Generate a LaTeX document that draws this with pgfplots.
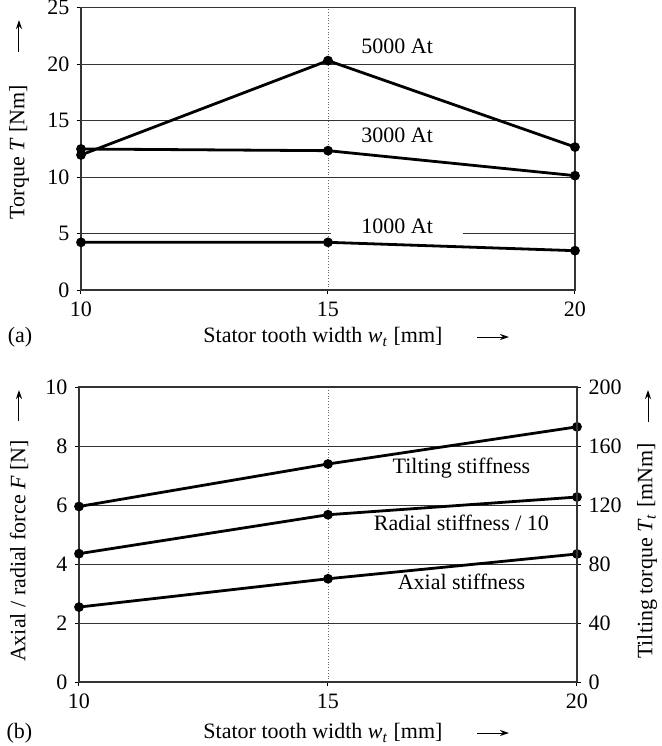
\documentclass[border=0pt]{standalone}
\usepackage{fontspec}
\setmainfont{Liberation Serif}
\usepackage{pgfplots}
\pgfplotsset{compat=1.18}
\usetikzlibrary{arrows.meta}
\begin{document}
\fontsize{11}{13}\selectfont
\begin{tikzpicture}[font=\fontsize{11}{13}\selectfont]
\useasboundingbox (-40.5pt,-228pt) rectangle (290pt,145pt);
\pgfplotsset{
  base/.style={
    scale only axis, xmin=10, xmax=20, xtick={10,15,20},
    tick align=outside, xtick pos=bottom, ytick pos=left,
    major tick length=2pt, tick style={black, line width=0.5pt},
    axis line style={black!80, line width=0.6pt},
    /pgf/number format/assume math mode=true,
    xmajorgrids, ymajorgrids,
    x grid style={black!60, densely dotted, line width=0.4pt},
    y grid style={black!80, line width=0.5pt},
    every axis plot post/.append style={black, solid, line width=1.4pt, mark=*, mark size=1.7pt, mark options={solid, fill=black}},
  },
}
% (a) torque
\begin{axis}[base, at={(0,0)}, anchor=south west, width=247pt, height=141.25pt,
  ymin=0, ymax=25, ytick={0,5,...,25}]
\addplot coordinates {(10,11.95)(15,20.3)(20,12.65)};
\addplot coordinates {(10,12.48)(15,12.33)(20,10.12)};
\addplot coordinates {(10,4.22)(15,4.22)(20,3.48)};
\node at (axis cs:16.4,21.6) {5000 At};
\node at (axis cs:16.4,13.7) {3000 At};
\node[fill=white, inner xsep=15pt, inner ysep=1pt] at (axis cs:16.4,5.6) {1000 At};
\end{axis}
% (b) forces
\begin{axis}[base, at={(-1pt,-196pt)}, anchor=south west, width=249pt, height=147.5pt,
  ymin=0, ymax=10, ytick={0,2,...,10}]
\addplot coordinates {(10,5.95)(15,7.39)(20,8.65)};
\addplot coordinates {(10,4.35)(15,5.67)(20,6.27)};
\addplot coordinates {(10,2.54)(15,3.50)(20,4.34)};
\node at (axis cs:17.68,7.26) {Tilting stiffness};
\node at (axis cs:17.68,5.39) {Radial stiffness / 10};
\node at (axis cs:17.68,3.38) {Axial stiffness};
\end{axis}
\begin{axis}[at={(-1pt,-196pt)}, anchor=south west, scale only axis, width=249pt, height=147.5pt,
  xmin=10, xmax=20, ymin=0, ymax=200, ytick={0,40,...,200},
  axis x line=none, axis y line*=right, tick align=outside,
  major tick length=2pt, tick style={black, line width=0.5pt},
  axis line style={black!80, line width=0.6pt},
  /pgf/number format/assume math mode=true]
\end{axis}
% labels and arrows
\tikzset{lab arrow/.style={line width=0.5pt, -{Stealth[length=4.5pt,width=3pt]}}}
\node[rotate=90] at (-31pt,69pt) {Torque \textit{T} [Nm]};
\draw[lab arrow] (-31pt,119pt) -- (-31pt,135pt);
\node at (-30.5pt,-23.5pt) {(a)};
\node at (121pt,-23.5pt) {Stator tooth width \textit{w}\textsubscript{\textit{t}} [mm]};
\draw[lab arrow] (198pt,-23.5pt) -- (214pt,-23.5pt);
\node[rotate=90] at (-31pt,-130.5pt) {Axial / radial force \textit{F} [N]};
\draw[lab arrow] (-31pt,-65.5pt) -- (-31pt,-50pt);
\node[rotate=90] at (283pt,-130.5pt) {Tilting torque \textit{T}\textsubscript{\textit{t}} [mNm]};
\draw[lab arrow] (283.5pt,-66pt) -- (283.5pt,-50pt);
\node at (-30.75pt,-221.5pt) {(b)};
\node at (121pt,-221.5pt) {Stator tooth width \textit{w}\textsubscript{\textit{t}} [mm]};
\draw[lab arrow] (198pt,-221.5pt) -- (214pt,-221.5pt);
\end{tikzpicture}
\end{document}
